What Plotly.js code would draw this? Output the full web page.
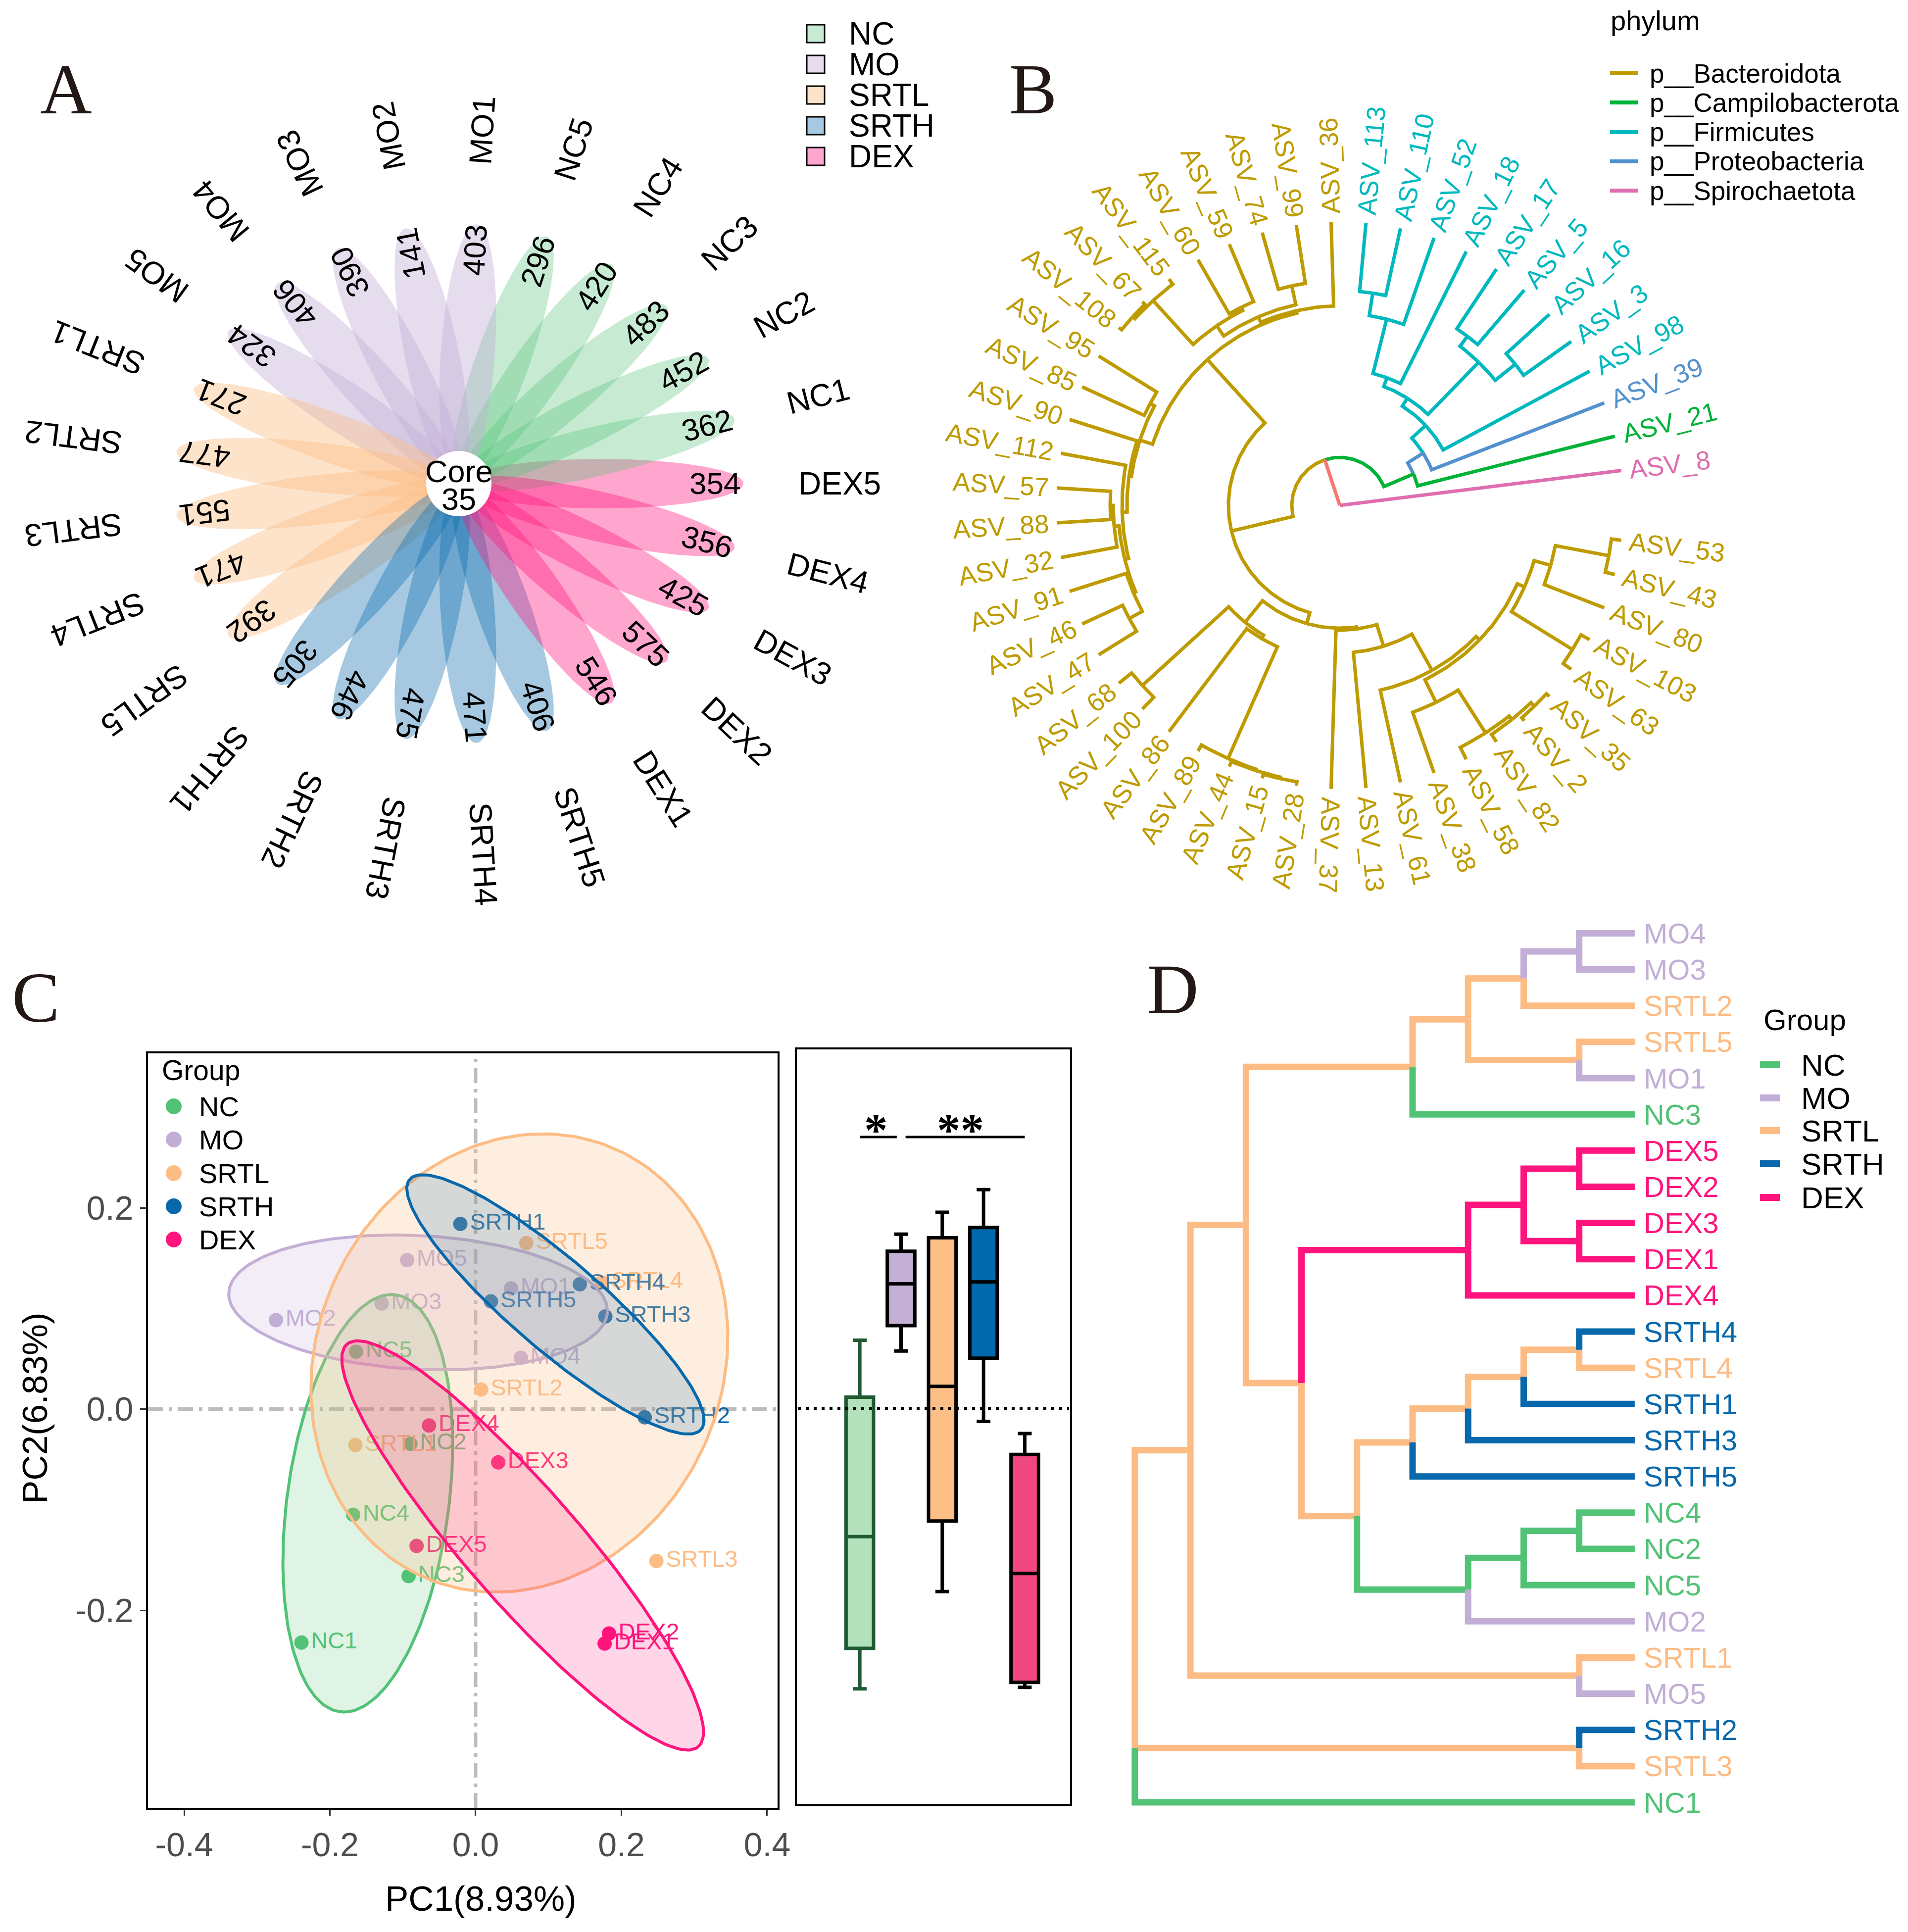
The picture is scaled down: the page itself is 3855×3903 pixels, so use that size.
<!DOCTYPE html>
<html>
<head>
<meta charset="utf-8">
<script src="https://cdn.plot.ly/plotly-3.0.1.min.js"></script>
<style>
html,body{margin:0;padding:0;background:#ffffff;}
#chart{width:3855px;height:3903px;}
</style>
</head>
<body>
<div id="chart"></div>
<script>
// ======================= DATA =======================
// ---- Panel A : flower plot (unique ASVs per sample, core) ----
const flowerSamples = ['DEX5','NC1','NC2','NC3','NC4','NC5','MO1','MO2','MO3','MO4','MO5',
  'SRTL1','SRTL2','SRTL3','SRTL4','SRTL5','SRTH1','SRTH2','SRTH3','SRTH4','SRTH5','DEX1','DEX2','DEX3','DEX4'];
const flowerCounts = [354,362,452,483,420,296,403,141,390,406,324,
  271,477,551,471,392,305,446,475,471,406,546,575,425,356];
const coreName = 'Core';
const coreCount = 35;
const groupLevels = ['NC','MO','SRTL','SRTH','DEX'];

// ---- Panel B : circular phylogenetic tree (Newick, branch lengths) ----
const phylumLevels = ['p__Bacteroidota','p__Campilobacterota','p__Firmicutes','p__Proteobacteria','p__Spirochaetota'];
const firmicutesASV = ['ASV_113','ASV_110','ASV_52','ASV_18','ASV_17','ASV_5','ASV_16','ASV_3','ASV_98'];
const proteobacteriaASV = ['ASV_39'];
const campilobacterotaASV = ['ASV_21'];
const spirochaetotaASV = ['ASV_8'];
const cladeFirmicutes = "(ASV_98:336,(((ASV_3:118,ASV_16:118):52,(ASV_5:145,ASV_17:145):25):147,(ASV_18:298,(ASV_52:185,(ASV_110:139,ASV_113:139):46):113):19):19):38";
const cladeBacteroUpper = "((ASV_36:170,((ASV_99:119,ASV_74:119):39,((ASV_59:126,ASV_60:126):7,(ASV_115:13,(ASV_67:7,ASV_108:7):6):120):25):12):5,((ASV_95:138,ASV_85:138):10,(ASV_90:143,(ASV_112:133,(((ASV_57:109,ASV_88:109):6,ASV_32:115):10,(ASV_91:120,(ASV_46:90,ASV_47:90):30):5):8):10):5):27):173";
const cladeBacteroLowerA = "((ASV_68:33,ASV_100:33):236,(ASV_86:261,(ASV_89:14,(ASV_44:11,(ASV_15:8,ASV_28:8):3):3):247):8):56";
const cladeBacteroLowerB = "(ASV_37:321,(ASV_13:275,(ASV_61:191,((ASV_38:130,(ASV_58:27,(ASV_82:18,(ASV_2:8,ASV_35:8):10):9):103):51,((ASV_63:20,ASV_103:20):145,(ASV_80:130,(ASV_43:20,ASV_53:20):110):35):16):10):84):46):4";
const treeB = "(ASV_8:573,((ASV_21:411,(ASV_39:374," + cladeFirmicutes + ")p__Proteobacteria:37)p__Campilobacterota:65,(" +
  cladeBacteroUpper + ",(" + cladeBacteroLowerA + "," + cladeBacteroLowerB + "):23):128)NA:97);";

// ---- Panel C : PCA + PC2 boxplot ----
const pcaSamples = ['NC1','NC2','NC3','NC4','NC5','MO1','MO2','MO3','MO4','MO5',
  'SRTL1','SRTL2','SRTL3','SRTL4','SRTL5','SRTH1','SRTH2','SRTH3','SRTH4','SRTH5','DEX1','DEX2','DEX3','DEX4','DEX5'];
const pc1 = [-0.239,-0.0895,-0.092,-0.168,-0.164, 0.0486,-0.274,-0.129,0.062,-0.094,
  -0.165,0.0076,0.248,0.173,0.0695, -0.021,0.232,0.178,0.143,0.021, 0.177,0.183,0.031,-0.064,-0.081];
const pc2 = [-0.232,-0.0345,-0.166,-0.105,0.057, 0.120,0.0885,0.105,0.051,0.148,
  -0.0358,0.0195,-0.151,0.126,0.165, 0.184,-0.0082,0.092,0.124,0.107, -0.233,-0.223,-0.053,-0.0163,-0.136];
// 95% ellipses (centre, semi-axes, rotation in data space)
const ellGroups = ['NC','MO','SRTL','SRTH','DEX'];
const ellCx = [-0.148,-0.079,0.060,0.1095,0.0645];
const ellCy = [-0.0936,0.106,0.0458,0.104,-0.1355];
const ellA  = [0.211,0.260,0.289,0.236,0.314];
const ellB  = [0.110,0.0665,0.224,0.050,0.066];
const ellAngle = [77.7,-2,13,-31,-38.8];
const pcaXTicks = [-0.4,-0.2,0,0.2,0.4];
const pcaXTickText = ['-0.4','-0.2','0.0','0.2','0.4'];
const pcaYTicks = [-0.2,0,0.2];
const pcaYTickText = ['-0.2','0.0','0.2'];
const pcaXTitle = 'PC1(8.93%)';
const pcaYTitle = 'PC2(6.83%)';
// boxplot statistics (PC2 by group)
const boxGroups = ['NC','MO','SRTL','SRTH','DEX'];
const boxLower = [-0.2786,0.0569,-0.1820,-0.0130,-0.2771];
const boxQ1    = [-0.2384,0.0821,-0.1120,0.0497,-0.2723];
const boxMedian= [-0.1275,0.1236,0.0217,0.1255,-0.1641];
const boxQ3    = [0.0111,0.1559,0.1694,0.1796,-0.0459];
const boxUpper = [0.0676,0.1729,0.1946,0.2172,-0.0251];
const sigLabels = ['*','**'];
const sigFrom = [1.0,2.11];
const sigTo = [1.896,5.0];
const sigY = 0.2694;

// ---- Panel D : hierarchical clustering dendrogram ----
const dClusterA = "((((MO4,MO3)MO,SRTL2)SRTL,(SRTL5,MO1)SRTL)SRTL,NC3)SRTL";
const dClusterDEX = "(((DEX5,DEX2)DEX,(DEX3,DEX1)DEX)DEX,DEX4)DEX";
const dClusterSRTH = "((((SRTH4,SRTL4)SRTL,SRTH1)SRTL,SRTH3)SRTL,SRTH5)SRTL";
const dClusterNC = "(((NC4,NC2)NC,NC5)NC,MO2)NC";
const treeD = "(((" + dClusterA + ",(" + dClusterDEX + ",(" + dClusterSRTH + "," + dClusterNC +
  ")SRTL)SRTL)SRTL,(SRTL1,MO5)SRTL)SRTL,(SRTH2,SRTL3)SRTL,NC1)SRTL;";

// ======================= STYLE =======================
const W = 3855, H = 3903;
const PX = x => x / W, PY = y => 1 - y / H;
const SANS = 'Liberation Sans, Arial, sans-serif';
const SERIF = 'Liberation Serif, Times New Roman, serif';
const groupColor = {NC:'#52C276', MO:'#C2AED6', SRTL:'#FDBC84', SRTH:'#0868AC', DEX:'#FF147D'};
const flowerFill = {NC:'rgba(82,194,118,0.33)', MO:'rgba(194,174,214,0.42)', SRTL:'rgba(253,188,132,0.42)',
  SRTH:'rgba(8,104,172,0.36)', DEX:'rgba(255,20,125,0.38)'};
const ellFill = {NC:'rgba(82,194,118,0.18)', MO:'rgba(194,174,214,0.22)', SRTL:'rgba(253,188,132,0.25)',
  SRTH:'rgba(8,104,172,0.16)', DEX:'rgba(255,20,125,0.18)'};
const boxFill = {NC:'#B2E1BB', MO:'#C3B0D4', SRTL:'#FDBF86', SRTH:'#0068AC', DEX:'#F0477F'};
const boxLine = {NC:'#1F5A32', MO:'#000000', SRTL:'#000000', SRTH:'#000000', DEX:'#000000'};
const phylumColor = {'p__Bacteroidota':'#BE9B00','p__Campilobacterota':'#00B237','p__Firmicutes':'#00B9BE',
  'p__Proteobacteria':'#5391CE','p__Spirochaetota':'#DE6EB0', 'NA':'#F8766D'};

const grpOf = s => s.replace(/\d+$/,'');
const cv = document.createElement('canvas').getContext('2d');
function textW(t, size){ cv.font = size + 'px "Liberation Sans", Arial'; return cv.measureText(t).width; }
function normAng(a){ return ((a + 180) % 360 + 360) % 360 - 180; }

const traces = [];
const annotations = [];
const shapes = [];
function ann(o){ annotations.push(Object.assign({showarrow:false}, o)); }

// ======================= PANEL A =======================
const AX = 575, AY = 525;            // px per flower unit (x, y)
const petalA = 0.5, petalB = 0.095;
flowerSamples.forEach((s, i) => {
  const thDeg = i * 360 / flowerSamples.length;
  const th = thDeg * Math.PI / 180;
  const g = grpOf(s);
  const xs = [], ys = [];
  for (let k = 0; k <= 120; k++) {
    const t = 2 * Math.PI * k / 120;
    const u = 0.5 + petalA * Math.cos(t), v = petalB * Math.sin(t);
    xs.push(u * Math.cos(th) - v * Math.sin(th));
    ys.push(u * Math.sin(th) + v * Math.cos(th));
  }
  traces.push({type:'scatter', mode:'lines', x:xs, y:ys, xaxis:'x', yaxis:'y', fill:'toself',
    fillcolor:flowerFill[g], line:{width:0, color:'rgba(0,0,0,0)'}, hoverinfo:'skip'});
  ann({x:0.9 * Math.cos(th), y:0.9 * Math.sin(th), xref:'x', yref:'y', text:String(flowerCounts[i]),
    textangle:normAng(-thDeg), font:{size:62, color:'#000', family:SANS}, xanchor:'center', yanchor:'middle'});
  // sample name starts at a fixed radius and runs outward
  const w = textW(s, 64);
  const cxp = 686 * Math.cos(th) + (w / 2) * Math.cos(th);
  const cyp = 646 * Math.sin(th) + (w / 2) * Math.sin(th);
  ann({x:cxp / AX, y:cyp / AY, xref:'x', yref:'y', text:s,
    textangle:normAng(-thDeg), font:{size:64, color:'#000', family:SANS}, xanchor:'center', yanchor:'middle'});
});
shapes.push({type:'circle', xref:'x', yref:'y', x0:-66/AX, x1:66/AX, y0:-66/AY, y1:66/AY,
  fillcolor:'#ffffff', line:{width:0}, layer:'above'});
ann({x:0, y:25/AY, xref:'x', yref:'y', text:coreName, font:{size:63, color:'#000', family:SANS}, xanchor:'center', yanchor:'middle'});
ann({x:0, y:-31/AY, xref:'x', yref:'y', text:String(coreCount), font:{size:63, color:'#000', family:SANS}, xanchor:'center', yanchor:'middle'});
// legend A
const legAY = [68, 130, 192, 254, 316];
groupLevels.forEach((g, k) => {
  shapes.push({type:'rect', xref:'paper', yref:'paper', x0:PX(1630), x1:PX(1666), y0:PY(legAY[k]+18), y1:PY(legAY[k]-18),
    fillcolor:flowerFill[g], line:{color:'#000', width:3}});
  ann({x:PX(1713), y:PY(legAY[k]), xref:'paper', yref:'paper', text:g, xanchor:'left', yanchor:'middle',
    font:{size:64, color:'#000', family:SANS}});
});
ann({x:PX(133), y:PY(180), xref:'paper', yref:'paper', text:'A', xanchor:'center', yanchor:'middle',
  font:{size:145, color:'#231815', family:SERIF}});

// ======================= NEWICK PARSER =======================
function parseNewick(str){
  const s = str.replace(/\s+/g,'');
  let i = 0;
  function node(){
    const n = {children:[], name:'', bl:0};
    if (s[i] === '(') {
      i++;
      n.children.push(node());
      while (s[i] === ',') { i++; n.children.push(node()); }
      if (s[i] !== ')') throw new Error('Newick parse error at ' + i);
      i++;
    }
    let name = '';
    while (i < s.length && ',():;'.indexOf(s[i]) < 0) name += s[i++];
    n.name = name;
    if (s[i] === ':') { i++; let num = ''; while (i < s.length && ',();'.indexOf(s[i]) < 0) num += s[i++]; n.bl = parseFloat(num); }
    return n;
  }
  return node();
}

// ======================= PANEL B =======================
function phylumOf(name){
  if (firmicutesASV.includes(name)) return 'p__Firmicutes';
  if (proteobacteriaASV.includes(name)) return 'p__Proteobacteria';
  if (campilobacterotaASV.includes(name)) return 'p__Campilobacterota';
  if (spirochaetotaASV.includes(name)) return 'p__Spirochaetota';
  return 'p__Bacteroidota';
}
const rootB = parseNewick(treeB);
const tipsB = [];
(function setR(n, r){ n.r = r; if (!n.children.length) tipsB.push(n); n.children.forEach(c => setR(c, r + c.bl)); })(rootB, 0);
const NB = tipsB.length;
tipsB.forEach((t, k) => { t.ang = (k + 1) * 360 / (NB + 1); t.grp = phylumOf(t.name); });
(function setA(n){
  if (!n.children.length) return;
  n.children.forEach(setA);
  n.ang = n.children.reduce((a, c) => a + c.ang, 0) / n.children.length;
  if (n.name) n.grp = n.name;
  else { const gs = new Set(n.children.map(c => c.grp)); n.grp = gs.size === 1 ? [...gs][0] : 'NA'; }
})(rootB);
const segB = {};
(function edges(n){
  n.children.forEach(c => {
    const s = segB[c.grp] || (segB[c.grp] = {x:[], y:[]});
    const steps = Math.max(2, Math.ceil(Math.abs(c.ang - n.ang)));
    for (let k = 0; k <= steps; k++) {
      const a = (n.ang + (c.ang - n.ang) * k / steps) * Math.PI / 180;
      s.x.push(n.r * Math.cos(a)); s.y.push(n.r * Math.sin(a));
    }
    const ac = c.ang * Math.PI / 180;
    s.x.push(c.r * Math.cos(ac)); s.y.push(c.r * Math.sin(ac));
    s.x.push(null); s.y.push(null);
    edges(c);
  });
})(rootB);
['p__Bacteroidota','p__Firmicutes','p__Proteobacteria','p__Campilobacterota','p__Spirochaetota','NA'].forEach(g => {
  if (!segB[g]) return;
  traces.push({type:'scatter', mode:'lines', x:segB[g].x, y:segB[g].y, xaxis:'x2', yaxis:'y2',
    line:{color:phylumColor[g], width:7}, hoverinfo:'skip', connectgaps:false});
});
tipsB.forEach(t => {
  const w = textW(t.name, 53);
  const rc = t.r + 16 + w / 2;
  const a = t.ang * Math.PI / 180;
  const flip = t.ang > 92 && t.ang < 268;
  ann({x:rc * Math.cos(a), y:rc * Math.sin(a), xref:'x2', yref:'y2', text:t.name,
    textangle:normAng(flip ? 180 - t.ang : -t.ang), xanchor:'center', yanchor:'middle',
    font:{size:53, color:phylumColor[t.grp], family:SANS}});
});
// legend B
ann({x:PX(3252), y:PY(42), xref:'paper', yref:'paper', text:'phylum', xanchor:'left', yanchor:'middle',
  font:{size:56, color:'#000', family:SANS}});
const legBY = [148, 207, 267, 326, 385];
phylumLevels.forEach((p, k) => {
  shapes.push({type:'line', xref:'paper', yref:'paper', x0:PX(3253), x1:PX(3309), y0:PY(legBY[k]), y1:PY(legBY[k]),
    line:{color:phylumColor[p], width:8}});
  ann({x:PX(3331), y:PY(legBY[k]), xref:'paper', yref:'paper', text:p, xanchor:'left', yanchor:'middle',
    font:{size:53, color:'#000', family:SANS}});
});
ann({x:PX(2087), y:PY(180), xref:'paper', yref:'paper', text:'B', xanchor:'center', yanchor:'middle',
  font:{size:145, color:'#231815', family:SERIF}});

// ======================= PANEL C =======================
shapes.push({type:'line', xref:'x3', yref:'paper', x0:0, x1:0, y0:PY(3652), y1:PY(2128),
  line:{color:'#BDBDBD', width:7, dash:'30px,12px,7px,12px'}, layer:'below'});
shapes.push({type:'line', xref:'paper', yref:'y3', x0:PX(299), x1:PX(1571), y0:0, y1:0,
  line:{color:'#BDBDBD', width:7, dash:'30px,12px,7px,12px'}, layer:'below'});
groupLevels.forEach(g => {
  const idx = pcaSamples.map((s, i) => grpOf(s) === g ? i : -1).filter(i => i >= 0);
  traces.push({type:'scatter', mode:'markers+text', x:idx.map(i => pc1[i]), y:idx.map(i => pc2[i]),
    text:idx.map(i => pcaSamples[i]), textposition:'middle right', xaxis:'x3', yaxis:'y3',
    marker:{size:29, color:groupColor[g]}, textfont:{size:47, color:groupColor[g], family:SANS},
    hoverinfo:'skip', cliponaxis:false});
});
ellGroups.forEach((g, k) => {
  const xs = [], ys = [];
  const th = ellAngle[k] * Math.PI / 180;
  for (let j = 0; j <= 200; j++) {
    const t = 2 * Math.PI * j / 200;
    const u = ellA[k] * Math.cos(t), v = ellB[k] * Math.sin(t);
    xs.push(ellCx[k] + u * Math.cos(th) - v * Math.sin(th));
    ys.push(ellCy[k] + u * Math.sin(th) + v * Math.cos(th));
  }
  traces.push({type:'scatter', mode:'lines', x:xs, y:ys, xaxis:'x3', yaxis:'y3', fill:'toself',
    fillcolor:ellFill[g], line:{color:groupColor[g], width:6}, hoverinfo:'skip'});
});
// legend C
ann({x:PX(325), y:PY(2162), xref:'paper', yref:'paper', text:'Group', xanchor:'left', yanchor:'middle',
  font:{size:57, color:'#000', family:SANS}});
const legCY = [2235, 2302, 2370, 2437, 2504];
groupLevels.forEach((g, k) => {
  shapes.push({type:'circle', xref:'paper', yref:'paper', x0:PX(351-16), x1:PX(351+16), y0:PY(legCY[k]+16), y1:PY(legCY[k]-16),
    fillcolor:groupColor[g], line:{width:0}});
  ann({x:PX(400), y:PY(legCY[k]), xref:'paper', yref:'paper', text:g, xanchor:'left', yanchor:'middle',
    font:{size:56, color:'#000', family:SANS}});
});
ann({x:PX(971), y:PY(3835), xref:'paper', yref:'paper', text:pcaXTitle, xanchor:'center', yanchor:'middle',
  font:{size:71, color:'#000', family:SANS}});
ann({x:PX(70), y:PY(2845), xref:'paper', yref:'paper', text:pcaYTitle, textangle:-90, xanchor:'center', yanchor:'middle',
  font:{size:71, color:'#000', family:SANS}});
ann({x:PX(72), y:PY(2015), xref:'paper', yref:'paper', text:'C', xanchor:'center', yanchor:'middle',
  font:{size:145, color:'#231815', family:SERIF}});
// boxplot
boxGroups.forEach((g, k) => {
  traces.push({type:'box', x:[k + 1], q1:[boxQ1[k]], median:[boxMedian[k]], q3:[boxQ3[k]],
    lowerfence:[boxLower[k]], upperfence:[boxUpper[k]], xaxis:'x4', yaxis:'y4',
    fillcolor:boxFill[g], line:{color:boxLine[g], width:7}, width:0.667, whiskerwidth:0.5,
    boxpoints:false, hoverinfo:'skip'});
});
shapes.push({type:'line', xref:'paper', yref:'y4', x0:PX(1612), x1:PX(2160), y0:0, y1:0,
  line:{color:'#000', width:6, dash:'6px,10px'}});
sigLabels.forEach((s, k) => {
  shapes.push({type:'line', xref:'x4', yref:'y4', x0:sigFrom[k], x1:sigTo[k], y0:sigY, y1:sigY, line:{color:'#000', width:5}});
  ann({x:(sigFrom[k] + sigTo[k]) / 2 + (k === 0 ? -0.06 : -0.12), y:sigY - 0.02, xref:'x4', yref:'y4', text:s,
    xanchor:'center', yanchor:'bottom', font:{size:95, color:'#000', family:SERIF, weight:'bold'}});
});
ann({x:PX(2369), y:PY(1998), xref:'paper', yref:'paper', text:'D', xanchor:'center', yanchor:'middle',
  font:{size:145, color:'#231815', family:SERIF}});

// ======================= PANEL D =======================
const rootD = parseNewick(treeD);
const leavesD = [];
(function walk(n){ if (!n.children.length) leavesD.push(n); n.children.forEach(walk); })(rootD);
leavesD.forEach((l, k) => { l.y = k; l.grp = grpOf(l.name); l.h = 0; });
(function setD(n){
  if (!n.children.length) return;
  n.children.forEach(setD);
  n.h = 1 + Math.max(...n.children.map(c => c.h));
  const ys = n.children.map(c => c.y).sort((a, b) => a - b);
  const m = ys.length;
  n.y = m % 2 ? ys[(m - 1) / 2] : (ys[m / 2 - 1] + ys[m / 2]) / 2;
  n.grp = n.name || 'SRTL';
})(rootD);
const HD = rootD.h;
const segD = {};
(function edgesD(n){
  n.children.forEach(c => {
    const s = segD[c.grp] || (segD[c.grp] = {x:[], y:[]});
    const xp = HD - n.h, xc = HD - c.h;
    s.x.push(xp, xp, xc, null); s.y.push(n.y, c.y, c.y, null);
    edgesD(c);
  });
})(rootD);
['SRTL','NC','MO','SRTH','DEX'].forEach(g => {
  if (!segD[g]) return;
  traces.push({type:'scatter', mode:'lines', x:segD[g].x, y:segD[g].y, xaxis:'x5', yaxis:'y5',
    line:{color:groupColor[g], width:13}, hoverinfo:'skip', connectgaps:false});
});
leavesD.forEach(l => {
  ann({x:HD, y:l.y, xref:'x5', yref:'y5', text:l.name, xanchor:'left', yanchor:'middle', xshift:16,
    font:{size:58, color:groupColor[l.grp], family:SANS}});
});
ann({x:PX(3561), y:PY(2060), xref:'paper', yref:'paper', text:'Group', xanchor:'left', yanchor:'middle',
  font:{size:60, color:'#000', family:SANS}});
const legDY = [2151, 2218, 2284, 2351, 2419];
groupLevels.forEach((g, k) => {
  shapes.push({type:'line', xref:'paper', yref:'paper', x0:PX(3556), x1:PX(3596), y0:PY(legDY[k]), y1:PY(legDY[k]),
    line:{color:groupColor[g], width:14}});
  ann({x:PX(3637), y:PY(legDY[k]), xref:'paper', yref:'paper', text:g, xanchor:'left', yanchor:'middle',
    font:{size:62, color:'#000', family:SANS}});
});

// ======================= LAYOUT =======================
const hidden = {visible:false, showgrid:false, zeroline:false, fixedrange:true};
const layout = {
  width:W, height:H, margin:{l:0, r:0, t:0, b:0, pad:0}, showlegend:false,
  paper_bgcolor:'#ffffff', plot_bgcolor:'rgba(0,0,0,0)',
  font:{family:SANS, color:'#000'},
  xaxis: Object.assign({}, hidden, {domain:[0, PX(1854)], range:[-927/AX, 927/AX], anchor:'y'}),
  yaxis: Object.assign({}, hidden, {domain:[PY(1757), PY(197)], range:[-780/AY, 780/AY], anchor:'x'}),
  xaxis2: Object.assign({}, hidden, {domain:[PX(1900), 1], range:[1900 - 2707, 3855 - 2707], anchor:'y2'}),
  yaxis2: Object.assign({}, hidden, {domain:[PY(1850), 1], range:[1021 - 1850, 1021], anchor:'x2'}),
  xaxis3: {domain:[PX(299), PX(1571)], range:[-0.4496, 0.4143], anchor:'y3', showgrid:false, zeroline:false,
    showline:true, mirror:true, linecolor:'#000', linewidth:4, ticks:'outside', ticklen:12, tickwidth:3, tickcolor:'#333',
    tickvals:pcaXTicks, ticktext:pcaXTickText, tickfont:{size:68, color:'#4D4D4D', family:SANS}},
  yaxis3: {domain:[PY(3652), PY(2128)], range:[-0.3962, 0.3535], anchor:'x3', showgrid:false, zeroline:false,
    showline:true, mirror:true, linecolor:'#000', linewidth:4, ticks:'outside', ticklen:12, tickwidth:3, tickcolor:'#333',
    tickvals:pcaYTicks, ticktext:pcaYTickText, tickfont:{size:68, color:'#4D4D4D', family:SANS}},
  xaxis4: {domain:[PX(1610), PX(2162)], range:[-0.526, 6.098], type:'linear', anchor:'y4', showgrid:false, zeroline:false,
    showline:true, mirror:true, linecolor:'#000', linewidth:4, ticks:'', showticklabels:false},
  yaxis4: {domain:[PY(3645), PY(2120)], range:[-0.3933, 0.3564], anchor:'x4', showgrid:false, zeroline:false,
    showline:true, mirror:true, linecolor:'#000', linewidth:4, ticks:'', showticklabels:false},
  xaxis5: Object.assign({}, hidden, {domain:[PX(2200), 1], range:[-0.828, 13.92], anchor:'y5'}),
  yaxis5: Object.assign({}, hidden, {domain:[PY(3700), PY(1850)], range:[24.806, -0.484], anchor:'x5'}),
  shapes:shapes, annotations:annotations
};
Plotly.newPlot('chart', traces, layout, {displayModeBar:false, staticPlot:true});
</script>
</body>
</html>
